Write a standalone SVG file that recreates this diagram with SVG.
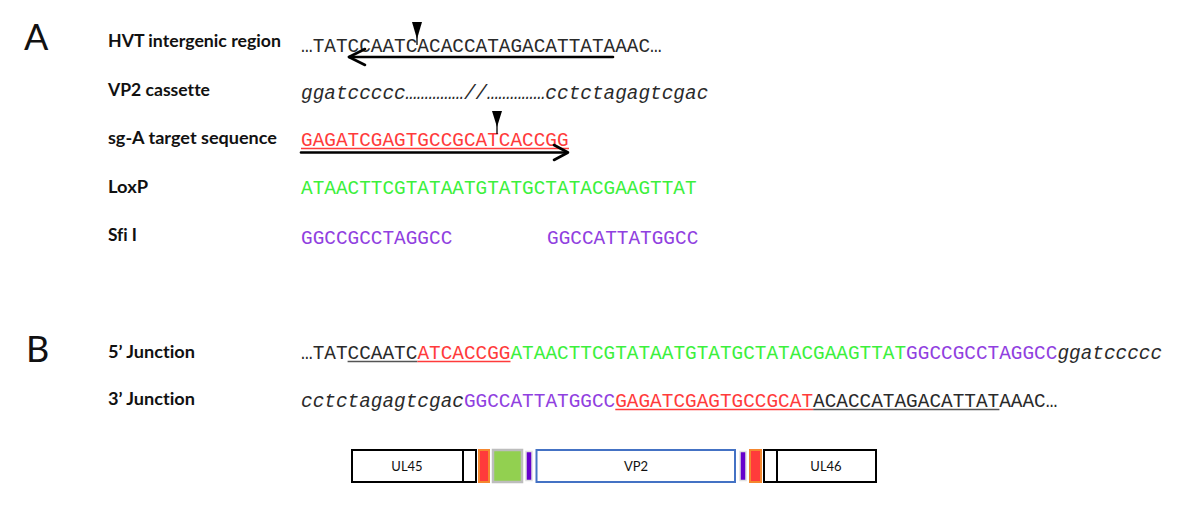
<svg xmlns="http://www.w3.org/2000/svg" width="1200" height="519" viewBox="0 0 1200 519">
<style>
.lab{font-family:Lato,"Open Sans",sans-serif;font-weight:700;font-size:16.5px;fill:#111;font-variant-ligatures:none}
.big{font-family:Lato,"Open Sans",sans-serif;font-size:36px;fill:#111}
.seq{font-family:"Liberation Mono","Courier New",monospace;font-size:19.4px;fill:#2a2a2a}
.it{font-style:italic}
.red{fill:#ff3b3b}
.grn{fill:#3cf03c}
.pur{fill:#9040e0}
.blk{fill:#2a2a2a}
.ul{stroke-width:1.3}
.arr{stroke:#000;stroke-width:2.6;fill:none;stroke-linecap:round;stroke-linejoin:round}
.box{font-family:Lato,"Open Sans",sans-serif;font-size:13px;fill:#111;text-anchor:middle}
</style>
<rect width="1200" height="519" fill="#fff"/>

<g id="panelA-label"><text class="big" x="24" y="50">A</text></g>
<g id="panelB-label"><text class="big" x="26" y="362">B</text></g>

<g id="hvt">
<text class="lab" x="108" y="47" textLength="173" lengthAdjust="spacingAndGlyphs">HVT intergenic region</text>
<text class="seq" x="301" y="52">…TATCCAATCACACCATAGACATTATAAAC…</text>
</g>

<g id="vp2cassette">
<text class="lab" x="108" y="96" textLength="102" lengthAdjust="spacingAndGlyphs">VP2 cassette</text>
<text class="seq it" x="301" y="99">ggatccccc……………//……………cctctagagtcgac</text>
</g>

<g id="sgA">
<text class="lab" x="108" y="144" textLength="169" lengthAdjust="spacingAndGlyphs">sg-A target sequence</text>
<text class="seq red" x="301" y="146">GAGATCGAGTGCCGCATCACCGG</text>
<line x1="301" y1="148.5" x2="569" y2="148.5" stroke="#ff3b3b" class="ul"/>
</g>

<g id="loxp">
<text class="lab" x="108" y="193" textLength="40" lengthAdjust="spacingAndGlyphs">LoxP</text>
<text class="seq grn" x="301" y="194">ATAACTTCGTATAATGTATGCTATACGAAGTTAT</text>
</g>

<g id="sfi">
<text class="lab" x="108" y="241" textLength="29" lengthAdjust="spacingAndGlyphs">Sfi I</text>
<text class="seq pur" x="301" y="244">GGCCGCCTAGGCC</text>
<text class="seq pur" x="547" y="244">GGCCATTATGGCC</text>
</g>

<g id="junction5">
<text class="lab" x="108" y="358" textLength="87" lengthAdjust="spacingAndGlyphs">5’ Junction</text>
<text class="seq" x="301" y="359"><tspan class="blk">…TATCCAATC</tspan><tspan class="red">ATCACCGG</tspan><tspan class="grn">ATAACTTCGTATAATGTATGCTATACGAAGTTAT</tspan><tspan class="pur">GGCCGCCTAGGCC</tspan><tspan class="blk it">ggatccccc</tspan></text>
<line x1="347.6" y1="361.5" x2="417.4" y2="361.5" stroke="#555" class="ul"/>
<line x1="417.4" y1="361.5" x2="510.5" y2="361.5" stroke="#ff3b3b" class="ul"/>
</g>

<g id="junction3">
<text class="lab" x="108" y="405" textLength="87" lengthAdjust="spacingAndGlyphs">3’ Junction</text>
<text class="seq" x="301" y="407"><tspan class="blk it">cctctagagtcgac</tspan><tspan class="pur">GGCCATTATGGCC</tspan><tspan class="red">GAGATCGAGTGCCGCAT</tspan><tspan class="blk">ACACCATAGACATTATAAAC…</tspan></text>
<line x1="615.3" y1="409.5" x2="813.2" y2="409.5" stroke="#ff3b3b" class="ul"/>
<line x1="813.2" y1="409.5" x2="999.4" y2="409.5" stroke="#555" class="ul"/>
</g>

<g id="connectors">
<path class="arr" d="M613 57 H349"/>
<path class="arr" d="M365 49 L349 57 L365 65"/>
<path class="arr" d="M301 152.5 H567"/>
<path class="arr" d="M554 145 L568 152.5 L554 160"/>
<polygon points="412,22 422,22 417,39" fill="#000"/>
<line x1="417" y1="36" x2="417" y2="45" stroke="#000" stroke-width="1.3"/>
<polygon points="492,111 502,111 497,127" fill="#000"/>
<line x1="497" y1="124" x2="497" y2="134" stroke="#000" stroke-width="1.3"/>
</g>

<g id="ul45">
<rect x="352" y="450" width="124" height="32" fill="#fff" stroke="#000" stroke-width="2"/>
<line x1="463" y1="450" x2="463" y2="482" stroke="#000" stroke-width="2"/>
<text class="box" x="407" y="470.5">UL45</text>
</g>
<g id="red-left"><rect x="479" y="450" width="10" height="32" fill="#ff3b3b" stroke="#f4872f" stroke-width="2"/></g>
<g id="green"><rect x="493" y="450" width="29" height="32" fill="#92d050" stroke="#bdbdbd" stroke-width="2.5"/></g>
<g id="purple-left"><rect x="526" y="451.5" width="6" height="29" fill="#6600cc" stroke="#e0e0e0" stroke-width="1.5"/></g>
<g id="vp2">
<rect x="536.5" y="450" width="198.5" height="32" fill="#fff" stroke="#4472c4" stroke-width="2"/>
<text class="box" x="636" y="470.5">VP2</text>
</g>
<g id="purple-right"><rect x="740" y="451.5" width="6" height="29" fill="#6600cc" stroke="#e0e0e0" stroke-width="1.5"/></g>
<g id="red-right"><rect x="750" y="450" width="11" height="32" fill="#ff3b3b" stroke="#f4872f" stroke-width="2"/></g>
<g id="ul46">
<rect x="764" y="450" width="112" height="32" fill="#fff" stroke="#000" stroke-width="2"/>
<line x1="777" y1="450" x2="777" y2="482" stroke="#000" stroke-width="2"/>
<text class="box" x="826" y="470.5">UL46</text>
</g>
</svg>
